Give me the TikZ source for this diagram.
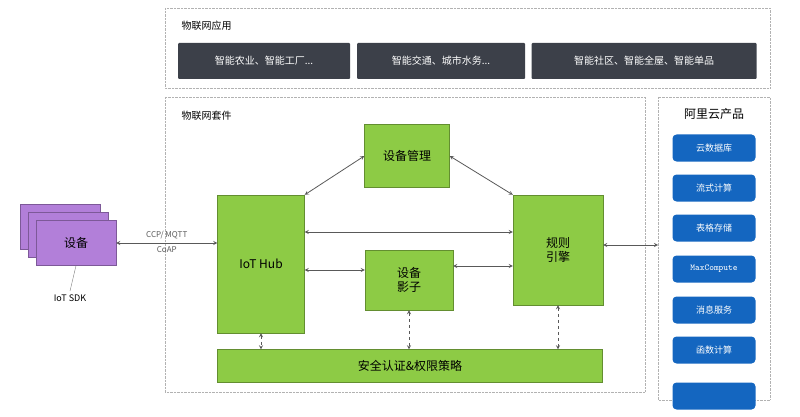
\documentclass[tikz,border=0pt]{standalone}
\usepackage{fontspec}
\setmainfont{Noto Sans CJK SC}
\usetikzlibrary{positioning}
\definecolor{appgray}{HTML}{3C4049}
\definecolor{iotgreen}{HTML}{8DCB45}
\definecolor{iotblue}{HTML}{1466C0}
\definecolor{devpurple}{HTML}{B27FD9}
\tikzset{
  panel/.style={draw=gray!60, densely dotted},
  app/.style={fill=appgray, text=white, rounded corners=1pt, font=\normalsize},
  module/.style={fill=iotgreen, draw=iotgreen!70!black, font=\large},
  product/.style={fill=iotblue, text=white, rounded corners=4pt, minimum width=83pt, minimum height=27pt, font=\small},
  device/.style={fill=devpurple, draw=devpurple!70!black, minimum width=80pt, minimum height=45pt},
  link/.style={<->, >=stealth, gray!70!black, thick},
  guard/.style={link, dashed}
}
\begin{document}
\begin{tikzpicture}[x=1pt, y=-1pt]
    \useasboundingbox (0,0) rectangle (800,417);
    % application layer
    \draw [panel] (165,8) rectangle (770,88);
    \node [anchor=west] at (178,26) {物联网应用};
    \node [app, minimum width=172pt, minimum height=36pt] (a1) at (264,61) {智能农业、智能工厂...};
    \node [app, minimum width=168pt, minimum height=36pt] (a2) at (441,61) {智能交通、城市水务...};
    \node [app, minimum width=225pt, minimum height=36pt] (a3) at (644,61) {智能社区、智能全屋、智能单品};

    % suite
    \draw [panel] (165,97) rectangle (645,392);
    \node [anchor=west] at (178,116) {物联网套件};
    \node [module, minimum width=85pt, minimum height=63pt] (mgr) at (407,156) {设备管理};
    \node [module, minimum width=87pt, minimum height=138pt] (hub) at (261,264) {IoT Hub};
    \node [module, minimum width=90pt, minimum height=110pt, align=center] (rule) at (558,250) {规则\\引擎};
    \node [module, minimum width=88pt, minimum height=60pt, align=center] (shadow) at (409,280) {设备\\影子};
    \node [module, minimum width=385pt, minimum height=33pt] (sec) at (410,366) {安全认证\&权限策略};

    % cloud products
    \draw [panel] (658,97) rectangle (770,400);
    \node [font=\large] at (714,114) {阿里云产品};
    \foreach \y/\t [count=\i] in {148/云数据库, 188/流式计算, 228/表格存储, 269/\texttt{MaxCompute}, 310/消息服务, 350/函数计算, 396/} {
        \node [product] (p\i) at (714,\y) {\t};
    }

    % devices
    \node [device] (d3) at (60,227) {};
    \node [device] (d2) at (68,235) {};
    \node [device, font=\large] (dev) at (76,243) {设备};
    \node [font=\small] (sdk) at (70,298) {IoT SDK};
    \draw [gray] (dev.south) -- (sdk.north);

    % connectors
    \draw [link] (dev.east) -- node [above, font=\footnotesize] {CCP/ MQTT} node [below, font=\footnotesize] {CoAP} (hub.west |- dev.east);
    \draw [link] (hub.north east) -- (mgr.west);
    \draw [link] (mgr.east) -- (rule.north west);
    \draw [link] (hub.east |- 0,232) -- (rule.west |- 0,232);
    \draw [link] (hub.east |- 0,270) -- (shadow.west |- 0,270);
    \draw [link] (shadow.east |- 0,266) -- (rule.west |- 0,266);
    \draw [link] (rule.east |- 0,245) -- (658,245);
    \draw [guard] (hub.south) -- (hub.south |- sec.north);
    \draw [guard] (shadow.south) -- (shadow.south |- sec.north);
    \draw [guard] (rule.south) -- (rule.south |- sec.north);
\end{tikzpicture}
\end{document}
